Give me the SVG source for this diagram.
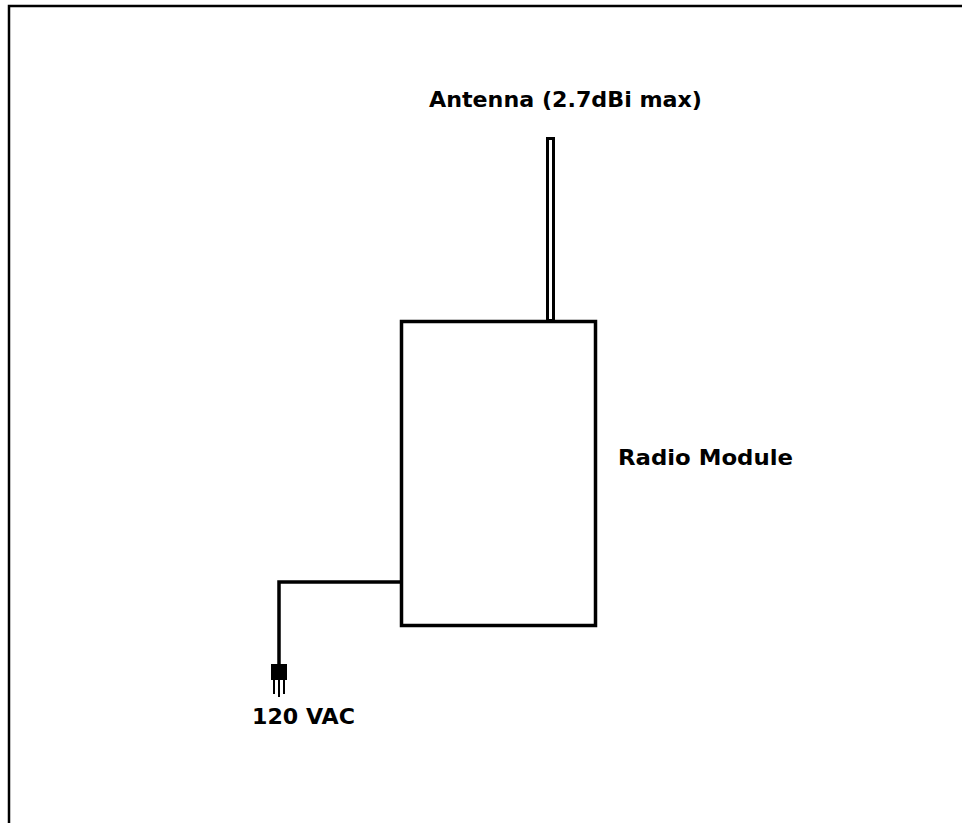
<svg xmlns="http://www.w3.org/2000/svg" width="971" height="823" viewBox="0 0 971 823">
<style>
.ln{fill:none;stroke:#000;stroke-width:3.5}
.t{font-family:"DejaVu Sans","Liberation Sans",sans-serif;font-weight:bold;font-size:22px;fill:#000}
</style>
<rect width="971" height="823" fill="#fff"/>
<g id="frame"><path d="M9,823 V6 H962" fill="none" stroke="#000" stroke-width="2.5"/></g>
<g id="antenna">
<rect x="547.5" y="138.5" width="6" height="182" fill="#fff" stroke="#000" stroke-width="3"/>
<text class="t" x="429" y="107" textLength="273" lengthAdjust="spacingAndGlyphs">Antenna (2.7dBi max)</text>
</g>
<g id="radio-module">
<rect class="ln" x="401.5" y="321.5" width="194" height="304" fill="#fff"/>
<text class="t" x="618" y="465" textLength="175" lengthAdjust="spacingAndGlyphs">Radio Module</text>
</g>
<g id="plug">
<rect x="271" y="664" width="16" height="16" fill="#000"/>
<path d="M274,680 V694 M279,680 V697 M284,680 V694" stroke="#000" stroke-width="2" fill="none"/>
<text class="t" x="252" y="724" textLength="103" lengthAdjust="spacingAndGlyphs">120 VAC</text>
</g>
<g id="connectors">
<path class="ln" d="M401,582 H279 V665"/>
</g>
</svg>
